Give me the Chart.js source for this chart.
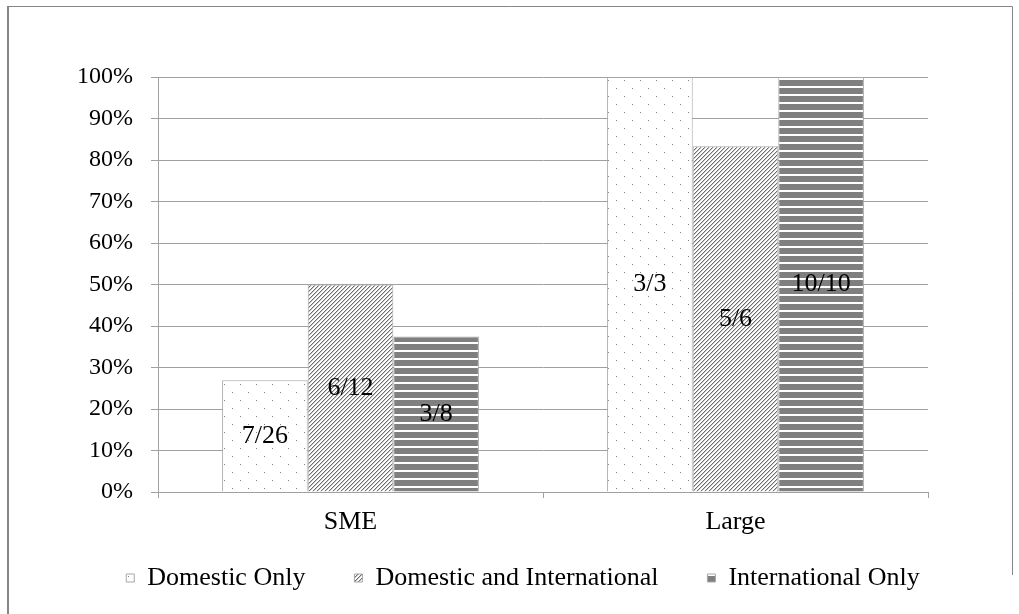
<!DOCTYPE html>
<html>
<head>
<meta charset="utf-8">
<script src="https://cdn.jsdelivr.net/npm/chart.js@4"></script>
<style>
html, body { margin: 0; padding: 0; background: #fff; }
#wrap { width: 1019px; height: 614px; position: relative; }
</style>
</head>
<body>
<div id="wrap"><canvas id="chart"></canvas></div>
<script>
// Data
const categories = ['SME', 'Large'];
const seriesNames = ['Domestic Only', 'Domestic and International', 'International Only'];
const domesticOnly = [0.269, 1.0];
const domesticAndInternational = [0.5, 0.833];
const internationalOnly = [0.375, 1.0];
const domesticOnlyLabels = ['7/26', '3/3'];
const domesticAndInternationalLabels = ['6/12', '5/6'];
const internationalOnlyLabels = ['3/8', '10/10'];
const yTicks = [0, 0.1, 0.2, 0.3, 0.4, 0.5, 0.6, 0.7, 0.8, 0.9, 1.0];

const FONT = '"Liberation Serif", "Times New Roman", serif';

// Pattern fills similar to the office-style hatching
function makePattern(kind) {
    const c = document.createElement('canvas');
    const g = c.getContext('2d');
    if (kind === 'dots') {
        c.width = 16; c.height = 16;
        g.fillStyle = '#fff';
        g.fillRect(0, 0, 16, 16);
        g.fillStyle = '#7f7f7f';
        g.fillRect(0, 0, 1, 1);
        g.fillRect(8, 8, 1, 1);
    } else if (kind === 'diag') {
        c.width = 4; c.height = 4;
        g.fillStyle = '#fff';
        g.fillRect(0, 0, 4, 4);
        g.fillStyle = '#6f6f6f';
        for (let i = 0; i < 4; i++) {
            g.fillRect(i, 3 - i, 1, 1);
        }
        g.fillStyle = '#c8c8c8';
        for (let i = 0; i < 4; i++) {
            g.fillRect(i, (4 - i) % 4, 1, 1);
        }
    } else {
        c.width = 8; c.height = 8;
        g.fillStyle = '#7f7f7f';
        g.fillRect(0, 0, 8, 8);
        g.fillStyle = '#fff';
        g.fillRect(0, 6, 8, 2);
    }
    return g.createPattern(c, 'repeat');
}

const datasets = [
    { label: seriesNames[0], data: domesticOnly, labels: domesticOnlyLabels, backgroundColor: makePattern('dots') },
    { label: seriesNames[1], data: domesticAndInternational, labels: domesticAndInternationalLabels, backgroundColor: makePattern('diag') },
    { label: seriesNames[2], data: internationalOnly, labels: internationalOnlyLabels, backgroundColor: makePattern('stripes') }
].map(d => Object.assign(d, {
    borderColor: '#a6a6a6',
    borderWidth: 1,
    barPercentage: 1.0,
    categoryPercentage: 0.667
}));

// Fraction labels in the middle of each bar
const barLabelPlugin = {
    id: 'barLabels',
    afterDatasetsDraw(chart) {
        const ctx = chart.ctx;
        ctx.save();
        ctx.font = '26px ' + FONT;
        ctx.fillStyle = '#000';
        ctx.textAlign = 'center';
        ctx.textBaseline = 'middle';
        chart.data.datasets.forEach((ds, i) => {
            chart.getDatasetMeta(i).data.forEach((bar, j) => {
                ctx.fillText(ds.labels[j], bar.x, (bar.y + bar.base) / 2);
            });
        });
        ctx.restore();
    }
};

// Frame around the whole chart (left edge is a bit heavier)
const framePlugin = {
    id: 'frame',
    afterLayout(chart) {
        // pull the legend row up so it sits where the original one is
        chart.legend.top = 516;
    },
    beforeDraw(chart) {
        const ctx = chart.ctx;
        ctx.save();
        ctx.fillStyle = '#868686';
        ctx.fillRect(7, 6, 2, 608);
        ctx.strokeStyle = '#868686';
        ctx.lineWidth = 1;
        ctx.beginPath();
        ctx.moveTo(8, 6.5);
        ctx.lineTo(1012.5, 6.5);
        ctx.lineTo(1012.5, 575);
        ctx.stroke();
        ctx.restore();
    }
};

new Chart(document.getElementById('chart'), {
    type: 'bar',
    data: {
        labels: categories,
        datasets: datasets
    },
    options: {
        responsive: true,
        maintainAspectRatio: false,
        animation: false,
        layout: {
            padding: { left: 27, right: 0, top: 77, bottom: 0 }
        },
        plugins: {
            legend: {
                position: 'bottom',
                maxHeight: 74,
                labels: {
                    boxWidth: 8,
                    boxHeight: 8,
                    padding: 49,
                    color: '#000',
                    font: { family: FONT, size: 26 }
                }
            },
            tooltip: { enabled: false }
        },
        scales: {
            x: {
                grid: {
                    offset: true,
                    drawOnChartArea: false,
                    drawTicks: true,
                    tickLength: 6,
                    color: '#a0a0a0'
                },
                border: { color: '#a0a0a0' },
                ticks: {
                    padding: 9,
                    color: '#000',
                    font: { family: FONT, size: 26 }
                },
                afterFit(scale) { scale.height = 48; }
            },
            y: {
                min: 0,
                max: 1,
                afterBuildTicks(scale) {
                    scale.ticks = yTicks.map(v => ({ value: v }));
                },
                grid: {
                    color: '#a0a0a0',
                    tickLength: 7
                },
                border: { color: '#a0a0a0' },
                ticks: {
                    padding: 18,
                    color: '#000',
                    font: { family: FONT, size: 24 },
                    callback: v => Math.round(v * 100) + '%'
                },
                afterFit(scale) { scale.width = 131; }
            },
            yRight: {
                position: 'right',
                display: true,
                grid: { display: false },
                border: { display: false },
                ticks: { display: false },
                afterFit(scale) { scale.width = 91; }
            }
        }
    },
    plugins: [barLabelPlugin, framePlugin]
});
</script>
</body>
</html>
